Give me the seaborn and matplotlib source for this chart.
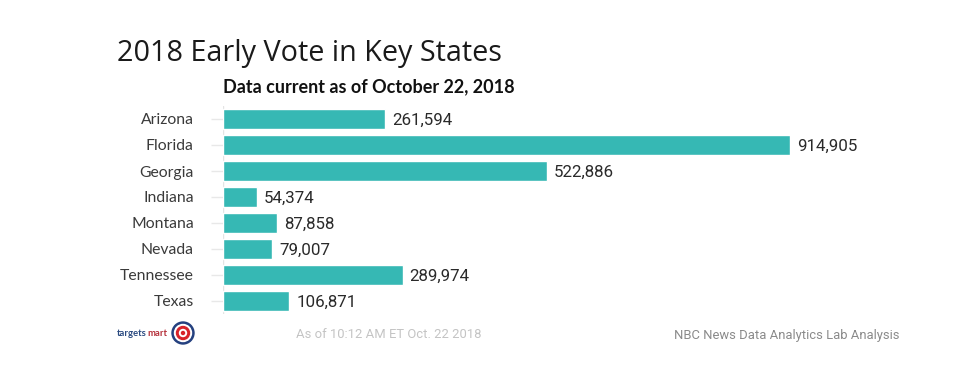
import pandas as pd
import seaborn as sns
import matplotlib.pyplot as plt
from matplotlib.patches import Circle
from matplotlib.transforms import IdentityTransform

states = ["Arizona", "Florida", "Georgia", "Indiana", "Montana", "Nevada", "Tennessee", "Texas"]
votes = [261594, 914905, 522886, 54374, 87858, 79007, 289974, 106871]

sns.set_theme(style="white")
plt.rcParams['font.family'] = ['Lato', 'DejaVu Sans']

df = pd.DataFrame({"state": states, "votes": votes})

fig = plt.figure(figsize=(9.8, 3.7), dpi=100)
ax = fig.add_axes([223 / 980, 1 - 314 / 370, 567 / 980, 208 / 370])
sns.barplot(data=df, x="votes", y="state", color="#36b8b4", saturation=1, width=0.8, ax=ax)
ax.set_xlim(0, 914905)
ax.set_ylim(7.5, -0.5)
ax.set_xlabel("")
ax.set_ylabel("")
ax.set_xticks([])
sns.despine(ax=ax, left=True, bottom=True)
ax.axvline(0, color="#e4e4e4", lw=1, zorder=0)
ax.tick_params(axis="y", length=9, width=1, color="#e8e8e8", pad=12, left=True)
for lab in ax.get_yticklabels():
    lab.set_fontsize(11.3)
    lab.set_color("#3a3a3a")
for i, v in enumerate(votes):
    ax.annotate(f"{v:,}", (v, i), xytext=(5, -1), textcoords="offset points",
                va="center", fontsize=12.2, color="#2a2a2a", family="Roboto")

fig.text(117 / 980, 1 - 53 / 370, "2018 Early Vote in Key States", fontsize=20.7,
         color="#1a1a1a", va="center", family="Open Sans", weight="medium")
fig.text(223 / 980, 1 - 87 / 370, "Data current as of October 22, 2018", fontsize=13,
         color="#111111", va="center", weight="bold")
fig.text(296 / 980, 1 - 335 / 370, "As of 10:12 AM ET Oct. 22 2018", fontsize=9.4,
         color="#c4c4c4", va="center", family="Roboto")
fig.text(899 / 980, 1 - 335 / 370, "NBC News Data Analytics Lab Analysis", fontsize=9.4,
         color="#8a8a8a", va="center", ha="right", family="Roboto")
fig.text(117 / 980, 1 - 333 / 370, "targets", fontsize=6.8, color="#2a4a80", va="center", weight="bold")
fig.text(147 / 980, 1 - 333 / 370, "mart", fontsize=6.8, color="#b5303a", va="center", weight="bold")

# little targetsmart logo, sizes in pixels
for r, c in [(11, "#24407f"), (8.5, "white"), (6.5, "#d8232a"), (3.5, "white"), (1.5, "#d8232a")]:
    fig.add_artist(Circle((183, 370 - 333), r, color=c, transform=IdentityTransform()))

fig.savefig("out.png", dpi=100)
